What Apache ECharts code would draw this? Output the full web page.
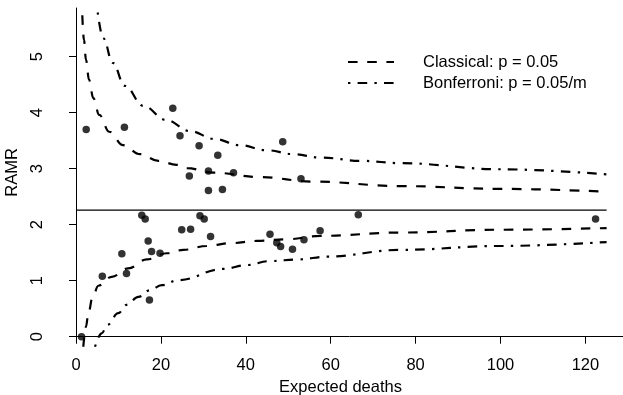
<!DOCTYPE html>
<html>
<head>
<meta charset="utf-8">
<script src="https://cdn.jsdelivr.net/npm/echarts@6/dist/echarts.min.js"></script>
<style>
  html, body { margin: 0; padding: 0; background: #fff; }
  #chart { width: 623px; height: 395px; }
</style>
</head>
<body>
<div id="chart"></div>
<script>
// hospitals: expected deaths vs RAMR
const expectedDeaths = [2.4, 11.4, 22.8, 24.5, 29.0, 33.4, 48.7, 26.7, 31.2, 37.1, 53.0, 31.2, 34.5,
  15.5, 16.3, 17.0, 17.8, 19.8, 24.9, 27.0, 29.2, 30.2, 31.7, 45.7, 47.3, 48.2, 51.0, 53.7, 57.5,
  66.5, 122.4, 10.8, 11.9, 6.2, 17.3, 1.3]
const ramr = [3.70, 3.74, 4.08, 3.59, 3.41, 3.24, 3.48, 2.87, 2.96, 2.93, 2.82, 2.61, 2.63,
  2.17, 2.10, 1.71, 1.52, 1.49, 1.91, 1.92, 2.16, 2.10, 1.79, 1.83, 1.68, 1.61, 1.56, 1.73, 1.89,
  2.18, 2.10, 1.48, 1.13, 1.08, 0.655, 0.0]

const overallRamr = 2.26
const xRange = [0, 125]

// control limits, [expected, ramr]
const classicalUpper = [[1.48, 5.74], [1.88, 5.30], [2.36, 4.94], [3.06, 4.59], [4.08, 4.26], [5.49, 3.96],
  [7.84, 3.66], [11.1, 3.42], [15.1, 3.26], [19.4, 3.14], [23.7, 3.07], [26.1, 3.01], [32.3, 2.93],
  [43.3, 2.85], [55.9, 2.77], [76.3, 2.69], [99.9, 2.64], [125, 2.59]]
const classicalLower = [[1.72, -0.18], [2.36, 0.18], [2.9, 0.42], [3.93, 0.71], [5.25, 0.91], [8.41, 1.07],
  [12.3, 1.22], [16.7, 1.38], [21.4, 1.49], [25.3, 1.55], [30.8, 1.62], [36.3, 1.67], [42.6, 1.71],
  [49.6, 1.74], [57.5, 1.80], [76.3, 1.86], [99.9, 1.91], [125, 1.94]]
const bonfUpper = [[5.11, 5.79], [6.43, 5.33], [8.65, 4.89], [11.5, 4.48], [15.9, 4.12], [21.2, 3.87],
  [26.9, 3.67], [32.7, 3.53], [38.6, 3.42], [44.9, 3.33], [51.2, 3.26], [57.5, 3.20], [67.3, 3.14],
  [76.3, 3.10], [99.9, 2.99], [125, 2.90]]
const bonfLower = [[4.48, -0.18], [6.05, 0.06], [7.37, 0.21], [9.96, 0.42], [11.9, 0.57], [14.7, 0.71],
  [17.4, 0.83], [20.2, 0.92], [24.1, 1.01], [34.7, 1.21], [40.2, 1.28], [45.7, 1.35], [52.4, 1.38],
  [59.1, 1.43], [76.3, 1.55], [99.9, 1.62], [125, 1.69]]

const xTicks = [0, 20, 40, 60, 80, 100, 120]
const yTicks = [0, 1, 2, 3, 4, 5]

const classicalName = 'Classical: p = 0.05'
const bonfName = 'Bonferroni: p = 0.05/m'

const font = "'Liberation Sans', Arial, sans-serif"
const dashed = [9.6, 9.6]
const dotDash = [2.4, 7.2, 9.6, 7.2]

const chart = echarts.init(document.getElementById('chart'))

function limitSeries(name, data, dash) {
  return {
    name,
    type: 'line',
    data,
    symbol: 'none',
    smooth: 0.4,
    smoothMonotone: 'x',
    clip: false,
    silent: true,
    lineStyle: { color: '#000', width: 2.2, type: dash },
    itemStyle: { color: '#000' },
    z: 2,
  }
}

const option = {
  animation: false,
  backgroundColor: '#fff',
  textStyle: { fontFamily: font },
  // grid edge at x = 0 and y = 0; axes pushed out like base R graphics
  grid: { left: 76, right: 0, top: 8, bottom: 58.3, outerBoundsMode: 'none', containLabel: false },
  legend: {
    data: [classicalName, bonfName],
    orient: 'vertical',
    left: 342,
    top: 48,
    itemWidth: 46,
    itemHeight: 14,
    itemGap: 3,
    itemStyle: { color: 'transparent', borderWidth: 0 },
    textStyle: { fontFamily: font, fontSize: 16.5, color: '#000', lineHeight: 18, padding: [0, 0, 0, 24] },
  },
  xAxis: {
    type: 'value',
    min: 0,
    max: 128.86,
    offset: 12.3,
    name: 'Expected deaths',
    nameLocation: 'middle',
    nameGap: 28,
    nameTextStyle: { fontFamily: font, fontSize: 16.5, color: '#000', padding: [0, 18, 0, 0] },
    axisLine: { show: true, lineStyle: { color: '#000', width: 1 } },
    axisTick: { show: true, length: 7, customValues: xTicks, lineStyle: { color: '#000' } },
    axisLabel: { customValues: xTicks, fontFamily: font, fontSize: 16.5, color: '#000', margin: 8 },
    splitLine: { show: false },
  },
  yAxis: {
    type: 'value',
    min: 0,
    max: 5.87,
    offset: 22,
    name: 'RAMR',
    nameLocation: 'middle',
    nameGap: 31,
    nameRotate: 90,
    nameTextStyle: { fontFamily: font, fontSize: 16.5, color: '#000' },
    axisLine: { show: true, lineStyle: { color: '#000', width: 1 } },
    axisTick: { show: true, length: 7, customValues: yTicks, lineStyle: { color: '#000' } },
    axisLabel: { customValues: yTicks, rotate: 90, fontFamily: font, fontSize: 16.5, color: '#000', margin: 8 },
    splitLine: { show: false },
  },
  series: [
    {
      name: 'overall',
      type: 'line',
      data: [[xRange[0], overallRamr], [xRange[1], overallRamr]],
      symbol: 'none',
      silent: true,
      lineStyle: { color: '#000', width: 1.1 },
      z: 1,
    },
    limitSeries(classicalName, classicalUpper, dashed),
    limitSeries(classicalName, classicalLower, dashed),
    limitSeries(bonfName, bonfUpper, dotDash),
    limitSeries(bonfName, bonfLower, dotDash),
    {
      name: 'hospitals',
      type: 'scatter',
      data: expectedDeaths.map((e, i) => [e, ramr[i]]),
      symbol: 'circle',
      symbolSize: 7.5,
      clip: false,
      itemStyle: { color: '#000' },
      z: 5,
    },
  ],
}

chart.setOption(option)
</script>
</body>
</html>
